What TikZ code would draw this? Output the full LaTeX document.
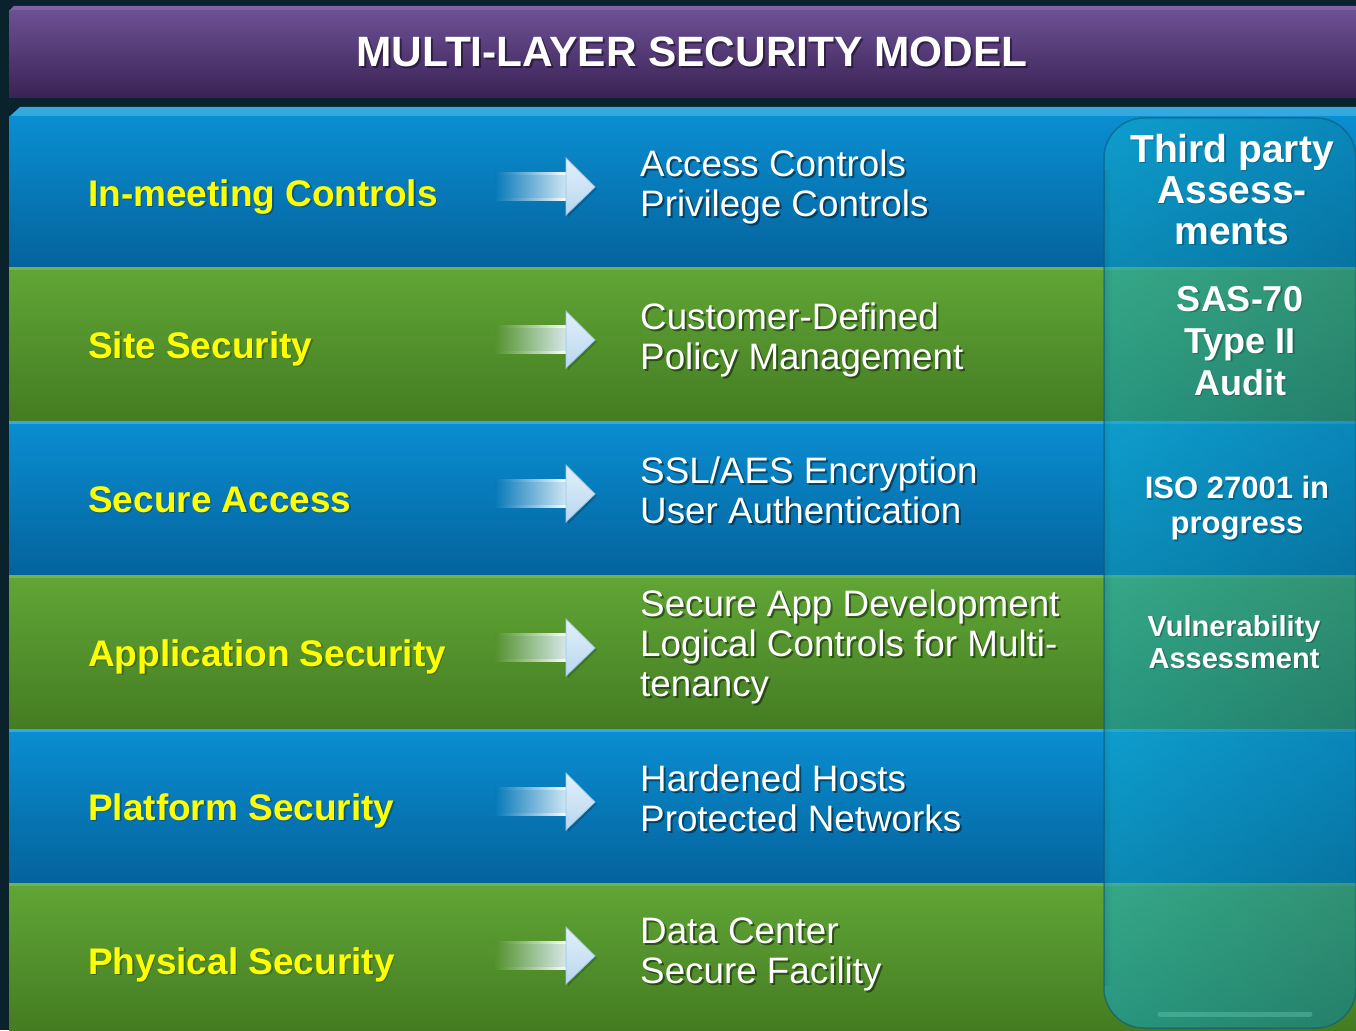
\documentclass[tikz,border=0pt]{standalone}
\usepackage{fontspec}
\setmainfont{Liberation Sans}

\definecolor{bgdark}{HTML}{0A222B}
\definecolor{purpTop}{HTML}{6C5094}
\definecolor{purpBot}{HTML}{3A2254}
\definecolor{purpEdge}{HTML}{7E64A6}
\definecolor{blueTop}{HTML}{0A8ED2}
\definecolor{blueBot}{HTML}{04639C}
\definecolor{blueEdge}{HTML}{35A8E0}
\definecolor{greenTop}{HTML}{61A636}
\definecolor{greenBot}{HTML}{447C22}
\definecolor{greenEdge}{HTML}{74B24C}
\definecolor{arrowTop}{HTML}{E2F0FA}
\definecolor{arrowBot}{HTML}{B8D7EF}
\definecolor{arrowEdge}{HTML}{9CC6E6}
\definecolor{panelL}{HTML}{12ABCB}
\definecolor{panelR}{HTML}{0A82A6}
\definecolor{panelEdge}{HTML}{0B5A78}
\definecolor{panelGlow}{HTML}{7FE0C8}
\definecolor{labelYellow}{HTML}{FFFF00}
\colorlet{blueMid}{blueTop!52!blueBot}
\colorlet{greenMid}{greenTop!52!greenBot}

\tikzset{
  bluerow/.style={top color=blueTop, bottom color=blueBot},
  greenrow/.style={top color=greenTop, bottom color=greenBot},
  titletext/.style={text=white, font=\bfseries\fontsize{42.4}{46}\selectfont, anchor=base, inner sep=0pt},
  layerlabel/.style={text=labelYellow, font=\bfseries\fontsize{37}{40}\selectfont, anchor=base west, inner sep=0pt},
  detail/.style={text=white, font=\fontsize{36.8}{40}\selectfont, anchor=north west, align=left, inner sep=0pt},
  auditbig/.style={text=white, font=\bfseries\fontsize{39}{41}\selectfont, anchor=north, align=center, inner sep=0pt},
  auditmid/.style={text=white, font=\bfseries\fontsize{36}{42}\selectfont, anchor=north, align=center, inner sep=0pt},
  auditsmall/.style={text=white, font=\bfseries\fontsize{31}{35}\selectfont, anchor=north, align=center, inner sep=0pt},
  audittiny/.style={text=white, font=\bfseries\fontsize{29}{32}\selectfont, anchor=north, align=center, inner sep=0pt},
  drop/.style={text=black, text opacity=0.45},
  softdrop/.style={text=black, text opacity=0.25},
}

% text with a dark drop shadow: style, name, position, text
\newcommand\castnode[4]{%
  \node[#1, drop, xshift=2pt, yshift=-2pt] (#2-shadow) at #3 {#4};
  \node[#1] (#2) at #3 {#4};
}
\newcommand\lightcast[4]{%
  \node[#1, softdrop, xshift=1.5pt, yshift=-1.5pt] (#2-shadow) at #3 {#4};
  \node[#1] (#2) at #3 {#4};
}

% block arrow centred vertically on #1, shaft blending out of band colour #2
\newcommand\blockarrow[2]{%
  \path[left color=#2, right color=arrowTop!92!#2] (495,#1-14) rectangle (567,#1+13);
  \path[left color=#2, right color=white] (495,#1-14.5) rectangle (567,#1-12.5);
  \path[left color=#2, right color=white] (495,#1+11.5) rectangle (567,#1+13.5);
  \fill[black, opacity=0.18] (568,#1-27) -- (597,#1+2) -- (568,#1+30) -- cycle;
  \path[top color=arrowTop, bottom color=arrowBot, draw=arrowEdge, line width=0.8pt]
    (566,#1-29) -- (595,#1) -- (566,#1+28) -- cycle;
}

\begin{document}
\begin{tikzpicture}[x=1pt, y=-1pt]
  \useasboundingbox (0,0) rectangle (1356,1030);
  \fill[bgdark] (0,0) rectangle (1356,1030);

  % title band
  \fill[purpEdge] (9,11) -- (14,6) -- (1356,6) -- (1356,11) -- cycle;
  \path[top color=purpTop, bottom color=purpBot] (9,11) rectangle (1356,98);
  \castnode{titletext}{title}{(692,67)}{MULTI-LAYER SECURITY MODEL}

  % layer bands
  \fill[blueEdge] (9,117) -- (20,107) -- (1356,107) -- (1356,117) -- cycle;
  \path[bluerow]  (9,117) rectangle (1356,267);
  \path[greenrow] (9,267) rectangle (1356,421);
  \path[bluerow]  (9,421) rectangle (1356,575);
  \path[greenrow] (9,575) rectangle (1356,729);
  \path[bluerow]  (9,729) rectangle (1356,883);
  \path[greenrow] (9,883) rectangle (1356,1030);
  \fill[greenEdge] (9,267) rectangle (1356,270);
  \fill[blueEdge]  (9,421) rectangle (1356,424);
  \fill[greenEdge] (9,575) rectangle (1356,578);
  \fill[blueEdge]  (9,729) rectangle (1356,732);
  \fill[greenEdge] (9,883) rectangle (1356,886);

  % layer names
  \lightcast{layerlabel}{inmeeting}{(88,206)}{In-meeting Controls}
  \lightcast{layerlabel}{site}{(88,358)}{Site Security}
  \lightcast{layerlabel}{access}{(88,512)}{Secure Access}
  \lightcast{layerlabel}{application}{(88,666)}{Application Security}
  \lightcast{layerlabel}{platform}{(88,820)}{Platform Security}
  \lightcast{layerlabel}{physical}{(88,974)}{Physical Security}

  % arrows
  \blockarrow{187}{blueMid}
  \blockarrow{340}{greenMid}
  \blockarrow{494}{blueMid}
  \blockarrow{648}{greenMid}
  \blockarrow{802}{blueMid}
  \blockarrow{956}{greenMid}

  % controls for each layer
  \castnode{detail}{accessctl}{(640,150)}{Access Controls\\Privilege Controls}
  \castnode{detail}{policy}{(640,303)}{Customer-Defined\\Policy Management}
  \castnode{detail}{encryption}{(640,457)}{SSL/AES Encryption\\User Authentication}
  \castnode{detail}{appdev}{(640,590)}{Secure App Development\\Logical Controls for Multi-\\tenancy}
  \castnode{detail}{hosts}{(640,765)}{Hardened Hosts\\Protected Networks}
  \castnode{detail}{facility}{(640,918)}{Data Center\\Secure Facility}

  % assessment column
  \path[rounded corners=40pt, left color=panelL, right color=panelR, fill opacity=0.55]
    (1104,118) rectangle (1356,1028);
  \path[left color=black, right color=panelL, fill opacity=0.08] (1104,170) rectangle (1112,985);
  \draw[panelGlow, opacity=0.3, line width=5pt, line cap=round]
    (1160,1014) -- (1310,1014);
  \draw[panelEdge, opacity=0.6, line width=1.5pt, rounded corners=40pt]
    (1104,118) rectangle (1356,1028);

  \lightcast{auditbig}{thirdparty}{(1232,134)}{Third party\\Assess-\\ments}
  \lightcast{auditmid}{sas}{(1240,286)}{SAS-70\\Type II\\Audit}
  \lightcast{auditsmall}{iso}{(1237,476)}{ISO 27001 in\\progress}
  \lightcast{audittiny}{vuln}{(1234,615)}{Vulnerability\\Assessment}
\end{tikzpicture}
\end{document}
